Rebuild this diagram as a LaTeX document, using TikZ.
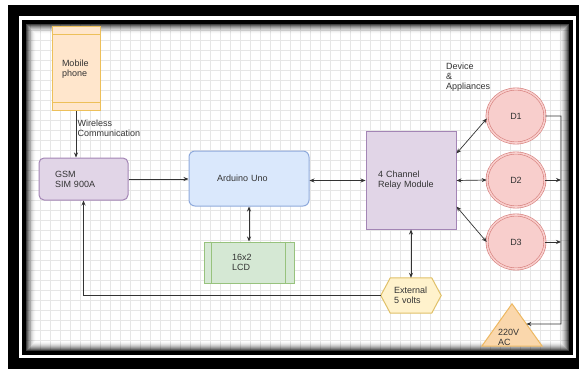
\documentclass[tikz,border=0pt]{standalone}
\usepackage{fontspec}
\setmainfont{Liberation Sans}
\usetikzlibrary{arrows.meta,shapes.geometric,calc}
\pgfdeclarelayer{background}
\pgfdeclarelayer{frame}
\pgfsetlayers{frame,background,main}
\definecolor{txt}{HTML}{333333}
\definecolor{phonefill}{HTML}{FFE6CC}\definecolor{phonedraw}{HTML}{EDC05A}
\definecolor{purfill}{HTML}{E1D5E7}\definecolor{purdraw}{HTML}{A385B5}
\definecolor{bluefill}{HTML}{DAE8FC}\definecolor{bluedraw}{HTML}{8FAADC}
\definecolor{grnfill}{HTML}{D5E8D4}\definecolor{grndraw}{HTML}{97C27D}
\definecolor{redfill}{HTML}{F8CECC}\definecolor{reddraw}{HTML}{D67F7C}
\definecolor{yelfill}{HTML}{FFF2CC}\definecolor{yeldraw}{HTML}{E0C068}
\definecolor{orfill}{HTML}{FAD7AC}\definecolor{ordraw}{HTML}{EDB862}
\definecolor{gridc}{HTML}{E6E6E6}
\tikzset{
  lbl/.style={font=\fontsize{9}{10}\selectfont, text=txt, align=left, inner sep=0pt},
  box/.style={lbl, line width=1pt, minimum width=#1},
  conn/.style={draw=black!80, line width=0.7pt},
  tip/.style={-{Stealth[length=5pt,width=4pt]}},
  dtip/.style={{Stealth[length=5pt,width=4pt]}-{Stealth[length=5pt,width=4pt]}},
  dev/.style={ellipse, fill=redfill, draw=reddraw, double=redfill, double distance=1.6pt, line width=0.6pt, minimum width=58pt, minimum height=54pt, font=\fontsize{9}{10}\selectfont, text=txt, inner sep=0pt}
}
\begin{document}
\begin{tikzpicture}[x=1pt,y=-1pt]
\useasboundingbox (0,0) rectangle (579,369);
\begin{pgfonlayer}{frame}
\fill[black] (8,5) rectangle (579,369);
\fill[white] (19,16) rectangle (576,358);
\fill[black] (22,20) rectangle (573,355);
\fill[white] (26,24) rectangle (569,351);
\begin{scope}
\clip (26,24) rectangle (569,351);
\foreach \gx in {30,40,...,560} {\draw[gridc, line width=0.5pt] (\gx,24) -- (\gx,351);}
\foreach \gy in {30,40,...,350} {\draw[gridc, line width=0.5pt] (26,\gy) -- (569,\gy);}
\end{scope}
\foreach \i in {0,...,9} {
  \pgfmathsetmacro{\op}{0.75*(1-\i/10)^2}
  \draw[black, opacity=\op, line width=1pt] (26.5+\i,24.5+\i) rectangle (568.5-\i,350.5-\i);
}
\end{pgfonlayer}

% nodes
\node[box=48pt, minimum height=84pt, text width=28pt, fill=phonefill, draw=phonedraw] (phone) at (76,69) {\raisebox{-3pt}{\parbox{28pt}{Mobile\\phone}}};
\draw[phonedraw, line width=1pt] ($(phone.north west)+(0,8)$) -- ($(phone.north east)+(0,8)$);
\draw[phonedraw, line width=1pt] ($(phone.south west)+(0,-9)$) -- ($(phone.south east)+(0,-9)$);

\node[box=89pt, minimum height=42pt, text width=57pt, rounded corners=5pt, fill=purfill, draw=purdraw] (gsm) at (83.5,179) {GSM\\SIM 900A};

\node[box=120pt, minimum height=55pt, text width=64pt, rounded corners=6pt, fill=bluefill, draw=bluedraw] (ard) at (249,178.5) {Arduino Uno};

\node[box=90pt, minimum height=41pt, text width=34pt, fill=grnfill, draw=grndraw] (lcd) at (249,262.5) {16x2\\LCD};
\draw[grndraw, line width=1pt] ($(lcd.north west)+(8,0)$) -- ($(lcd.south west)+(8,0)$);
\draw[grndraw, line width=1pt] ($(lcd.north east)+(-9,0)$) -- ($(lcd.south east)+(-9,0)$);

\node[box=90pt, minimum height=97pt, text width=66pt, fill=purfill, draw=purdraw] (relay) at (411,180.5) {4 Channel\\Relay Module};

\node[dev] (d1) at (516,116) {D1};
\node[dev] (d2) at (516,180) {D2};
\node[dev] (d3) at (516,242) {D3};

\node[lbl, minimum width=60pt, minimum height=35pt, text width=34pt] (ext) at (411,295.5) {External\\5 volts};
\begin{pgfonlayer}{background}
\draw[fill=yelfill, draw=yeldraw, line width=1pt] (ext.west) -- ($(ext.north west)+(9.5,0)$) -- ($(ext.north east)+(-9.5,0)$) -- (ext.east) -- ($(ext.south east)+(-9.5,0)$) -- ($(ext.south west)+(9.5,0)$) -- cycle;
\end{pgfonlayer}

\node[minimum width=60pt, minimum height=42pt, inner sep=0pt] (tri) at (512,325) {};
\begin{pgfonlayer}{background}
\draw[fill=orfill, draw=ordraw, line width=1pt] (tri.south west) -- (tri.north) -- (tri.south east) -- cycle;
\end{pgfonlayer}
\node[lbl, anchor=west] (acl) at (498,337) {220V\\AC};

\node[lbl, anchor=west] (devl) at (446,77) {Device\\\&\\Appliances};
\node[lbl, anchor=west] (wl) at (77.5,128) {Wireless\\Communication};

% connectors
\draw[conn, tip] (phone.south) -- (phone.south |- gsm.north);
\draw[conn, tip] (gsm.east) -- (gsm.east -| ard.west);
\draw[conn, dtip] (relay.west -| ard.east) -- (relay.west);
\draw[conn, dtip] (ard.south) -- (lcd.north);
\draw[conn, dtip] ($(relay.north east)+(0,22)$) -- (d1.185);
\draw[conn, dtip] (relay.east) -- (d2.west);
\draw[conn, dtip] ($(relay.south east)+(0,-23)$) -- (d3.west);
\draw[conn, dtip] (relay.south) -- (ext.north);
\draw[conn, tip] (ext.west) -| (gsm.south);

\coordinate (bus) at (561,324);
\coordinate (acin) at ($(tri.north)!0.476!(tri.south east)$);
\draw[conn, tip] (d1.east) -- (d1.east -| bus) -- (bus) -- (acin);
\draw[conn, tip] (d2.east) -- (d2.east -| bus);
\draw[conn, tip] (d3.east) -- (d3.east -| bus);
\end{tikzpicture}
\end{document}
